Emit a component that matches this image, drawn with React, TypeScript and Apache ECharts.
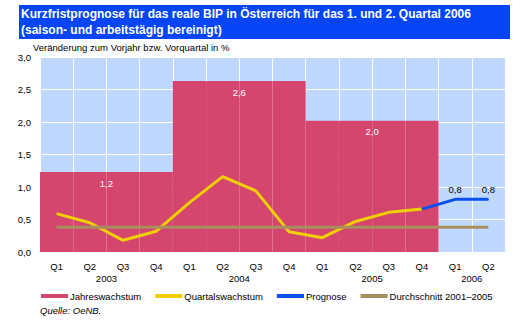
import React, { useEffect, useRef } from 'react';
import * as echarts from 'echarts';

const quarters = ['Q1', 'Q2', 'Q3', 'Q4', 'Q1', 'Q2', 'Q3', 'Q4', 'Q1', 'Q2', 'Q3', 'Q4', 'Q1', 'Q2'];
const years = ['2003', '2004', '2005', '2006'];
const quartersPerYear = [4, 4, 4, 2];
const annualGrowth: (number | null)[] = [1.23, 2.63, 2.02, null];
const quarterlyGrowth: (number | null)[] = [0.59, 0.45, 0.18, 0.32, 0.76, 1.16, 0.94, 0.31, 0.22, 0.47, 0.61, 0.66, null, null];
const forecast: (number | null)[] = [null, null, null, null, null, null, null, null, null, null, null, 0.66, 0.81, 0.81];
const average: number[] = [0.38, 0.38, 0.38, 0.38, 0.38, 0.38, 0.38, 0.38, 0.38, 0.38, 0.38, 0.38, 0.38, 0.38];
const yTicks = [0, 0.5, 1, 1.5, 2, 2.5, 3];

const FONT = '"Liberation Sans", Arial, sans-serif';
const FS = 9.5;
const fmt = (v: number) => v.toFixed(1).replace('.', ',');

export default function App() {
  const ref = useRef<HTMLDivElement>(null);
  useEffect(() => {
    if (!ref.current) return;
    const chart = echarts.init(ref.current, null, { renderer: 'svg' });

    const barData: any[] = [];
    const yearCenters: Record<number, string> = {};
    let start = 0;
    years.forEach((y, yi) => {
      const n = quartersPerYear[yi];
      yearCenters[start + n / 2] = y;
      for (let q = 0; q < n; q++) {
        const v = annualGrowth[yi];
        if (v == null) barData.push(null);
        else barData.push({ value: v, label: { show: q === 1 } });
      }
      start += n;
    });

    const forecastData = forecast.map((v, i) =>
      v == null ? null : { value: v, label: { show: i > 0 && forecast[i - 1] != null } }
    );

    chart.setOption({
      animation: false,
      textStyle: { fontFamily: FONT },
      title: {
        text: 'Kurzfristprognose für das reale BIP in Österreich für das 1. und 2. Quartal 2006\n(saison- und arbeitstägig bereinigt)',
        left: 21,
        top: 6,
        padding: 0,
        z: 10,
        textStyle: { color: '#ffffff', fontSize: 12, fontWeight: 'bold', fontFamily: FONT, lineHeight: 16 },
      },
      graphic: [
        { type: 'rect', left: 19, top: 5, z: 0, shape: { width: 491, height: 34 }, style: { fill: '#0545F5' } },
        {
          type: 'text', left: 40, top: 305, z: 10,
          style: { text: 'Quelle: OeNB.', fill: '#000', font: `italic ${FS}px ${FONT}` },
        },
      ],
      legend: {
        left: 41,
        top: 291,
        width: 480,
        padding: 0,
        icon: 'rect',
        itemWidth: 27,
        itemHeight: 4,
        itemGap: 14,
        textStyle: { fontSize: FS, color: '#000', fontFamily: FONT, padding: [0, 0, 0, -3] },
        data: ['Jahreswachstum', 'Quartalswachstum', 'Prognose', 'Durchschnitt 2001–2005'],
      },
      grid: { left: 40, top: 57, right: 20, bottom: 70, show: true, backgroundColor: '#BFD8FF', borderWidth: 0 },
      xAxis: [
        {
          type: 'category',
          data: quarters,
          boundaryGap: true,
          axisLine: { show: false },
          axisTick: { show: false },
          axisLabel: { color: '#000', fontSize: FS, margin: 9, interval: 0 },
          splitLine: { show: true, interval: 0, lineStyle: { color: '#ffffff', width: 1 } },
        },
        {
          type: 'value',
          position: 'bottom',
          min: 0,
          max: quarters.length,
          interval: 1,
          offset: 12,
          axisLine: { show: false },
          axisTick: { show: false },
          splitLine: { show: false },
          axisLabel: {
            color: '#000', fontSize: FS, margin: 9, showMinLabel: true, showMaxLabel: true,
            formatter: (v: number) => yearCenters[v] ?? '',
          },
        },
      ],
      yAxis: {
        type: 'value',
        min: yTicks[0],
        max: yTicks[yTicks.length - 1],
        interval: 0.5,
        name: 'Veränderung zum Vorjahr bzw. Vorquartal in %',
        nameLocation: 'end',
        nameGap: 3,
        nameTextStyle: { align: 'left', color: '#000', fontSize: FS, padding: [0, 0, 0, -7] },
        axisLine: { show: false },
        axisTick: { show: false },
        axisLabel: { color: '#000', fontSize: FS, margin: 9, formatter: (v: number) => fmt(v) },
        splitLine: { show: true, lineStyle: { color: '#ffffff', width: 1 } },
      },
      series: [
        {
          name: 'Jahreswachstum',
          type: 'bar',
          data: barData,
          barWidth: '100%',
          barCategoryGap: 0,
          itemStyle: { color: '#D4466E' },
          label: {
            position: ['100%', 11],
            align: 'center',
            verticalAlign: 'middle',
            color: '#ffffff',
            fontSize: FS,
            formatter: (p: any) => fmt(p.value),
          },
          z: 1,
        },
        {
          name: 'Quartalswachstum',
          type: 'line',
          data: quarterlyGrowth,
          showSymbol: false,
          symbol: 'none',
          lineStyle: { color: '#F0CF00', width: 3 },
          itemStyle: { color: '#F0CF00' },
          z: 3,
        },
        {
          name: 'Prognose',
          type: 'line',
          data: forecastData,
          symbol: 'circle',
          symbolSize: 1,
          lineStyle: { color: '#0A4FF0', width: 3 },
          itemStyle: { color: '#0A4FF0' },
          label: { position: 'top', distance: 4, color: '#000', fontSize: FS, formatter: (p: any) => fmt(p.value) },
          z: 3,
        },
        {
          name: 'Durchschnitt 2001–2005',
          type: 'line',
          data: average,
          showSymbol: false,
          symbol: 'none',
          lineStyle: { color: '#A88F5F', width: 3 },
          itemStyle: { color: '#A88F5F' },
          z: 4,
        },
      ],
    });
    return () => chart.dispose();
  }, []);
  return <div ref={ref} style={{ position: 'absolute', left: 0, top: 0, width: 525, height: 322 }} />;
}
